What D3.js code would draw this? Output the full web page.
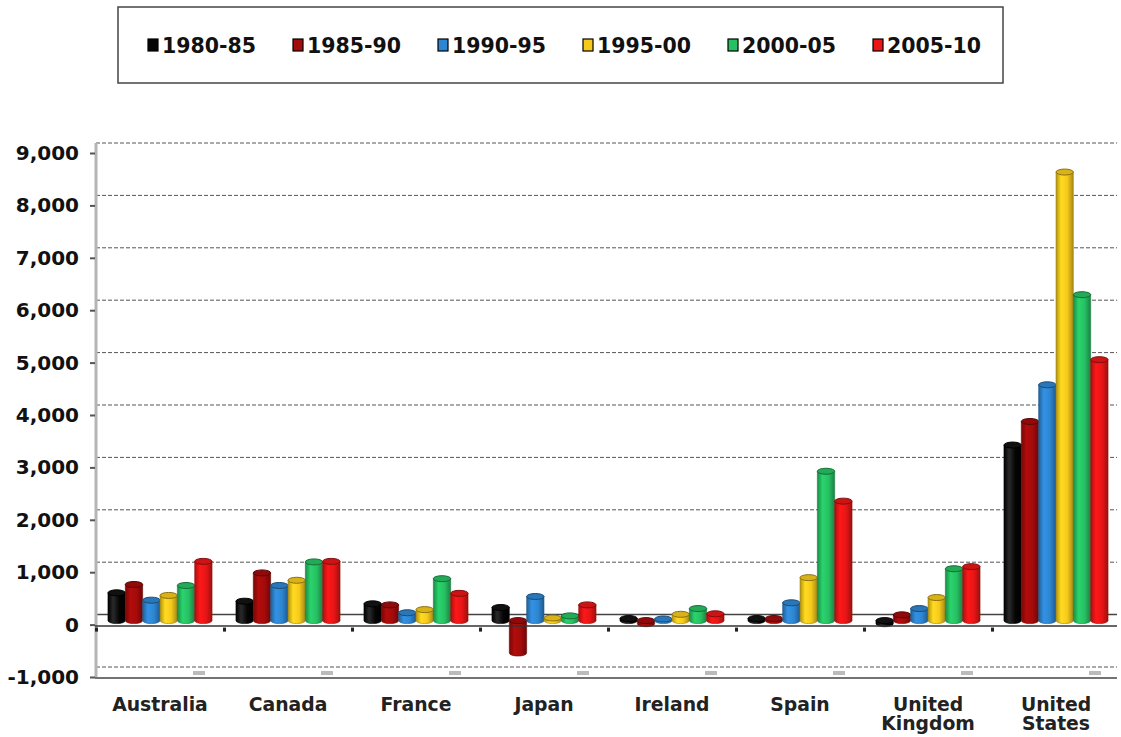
<!DOCTYPE html>
<html>
<head>
<meta charset="utf-8">
<script src="https://cdn.jsdelivr.net/npm/d3@7"></script>
<style>
  body { margin: 0; background: #fff; }
  text { font-family: "DejaVu Sans", Verdana, sans-serif; font-weight: bold; }
</style>
</head>
<body>
<svg width="1121" height="737"></svg>
<script>
// categories + series
const categories = ["Australia", "Canada", "France", "Japan", "Ireland", "Spain", "United Kingdom", "United States"];
const seriesNames = ["1980-85", "1985-90", "1990-95", "1995-00", "2000-05", "2005-10"];
const colors = ["#050505", "#a40b0b", "#2e86d2", "#f6c91c", "#27c163", "#e81616"];

// values per series, in category order
const v1980 = [530, 370, 320, 250, 40, 40, -60, 3350];
const v1985 = [690, 910, 300, -620, -60, 40, 110, 3800];
const v1990 = [390, 670, 150, 460, 30, 340, 230, 4500];
const v1995 = [480, 770, 210, 50, 120, 820, 440, 8560];
const v2000 = [670, 1120, 800, 90, 230, 2850, 990, 6220];
const v2005 = [1130, 1130, 520, 300, 130, 2280, 1030, 4980];
const seriesValues = [v1980, v1985, v1990, v1995, v2000, v2005];

const yTicks = [-1000, 0, 1000, 2000, 3000, 4000, 5000, 6000, 7000, 8000, 9000];

const left = 96, right = 1117;

const svg = d3.select("svg");
const defs = svg.append("defs");

// front (tick) scale
const y = d3.scaleLinear().domain([-1000, 9000]).range([677, 153]);
const backOff = -10, barOff = -4;

const x0 = d3.scaleBand().domain(categories).range([96, 1120]).padding(0);
const x1 = d3.scaleBand().domain(seriesNames).range([0, x0.bandwidth()]).paddingInner(0).paddingOuter(0.69);

// cylinder shading
seriesNames.forEach((s, i) => {
  const c = d3.color(colors[i]);
  const g = defs.append("linearGradient").attr("id", "g" + i)
    .attr("x1", "0%").attr("x2", "100%").attr("y1", "0%").attr("y2", "0%");
  const base = i === 0 ? d3.rgb(0, 0, 0) : c;
  g.append("stop").attr("offset", "0%").attr("stop-color", base.darker(0.9));
  g.append("stop").attr("offset", "30%").attr("stop-color", i === 0 ? "#2a2a2a" : c.brighter(0.25));
  g.append("stop").attr("offset", "65%").attr("stop-color", c);
  g.append("stop").attr("offset", "100%").attr("stop-color", base.darker(1.1));
});

// legend
svg.append("rect")
  .attr("x", 118).attr("y", 7).attr("width", 885).attr("height", 76)
  .attr("fill", "#fff").attr("stroke", "#444").attr("stroke-width", 1.5);

const legend = svg.append("g").selectAll("g")
  .data(seriesNames)
  .enter().append("g")
  .attr("transform", (d, i) => `translate(${148 + i * 145},0)`);
legend.append("rect")
  .attr("x", 0).attr("y", 39).attr("width", 10).attr("height", 12)
  .attr("fill", (d, i) => colors[i]).attr("stroke", "#000").attr("stroke-width", 1.2);
legend.append("text")
  .attr("x", 14).attr("y", 53)
  .style("font-size", "20.5px")
  .attr("fill", "#111")
  .text(d => d);

// back wall gridlines
svg.append("g").selectAll("line")
  .data(yTicks.filter(d => d !== 0))
  .enter().append("line")
  .attr("x1", left).attr("x2", right)
  .attr("y1", d => y(d) + backOff).attr("y2", d => y(d) + backOff)
  .attr("stroke", "#555").attr("stroke-width", 1)
  .attr("stroke-dasharray", "4,2");

// back zero line
svg.append("line")
  .attr("x1", left).attr("x2", right)
  .attr("y1", y(0) + backOff).attr("y2", y(0) + backOff)
  .attr("stroke", "#444").attr("stroke-width", 1.5);

// Y axis
svg.append("line")
  .attr("x1", left).attr("x2", left)
  .attr("y1", y(9000) + backOff).attr("y2", y(-1000))
  .attr("stroke", "#b5b5b5").attr("stroke-width", 3);

const fmt = d3.format(",");
const yAxis = svg.append("g")
  .attr("transform", `translate(${left - 1},0)`)
  .call(d3.axisLeft(y).tickValues(yTicks).tickSize(5).tickPadding(11)
    .tickFormat(d => fmt(d).replace("\u2212", "-")));
yAxis.select(".domain").remove();
yAxis.selectAll(".tick line").attr("stroke", "#555").attr("stroke-width", 2);
yAxis.selectAll("text")
  .style("font-size", "20px")
  .attr("fill", "#111");

// bars
const groups = svg.append("g").selectAll("g")
  .data(categories)
  .enter().append("g")
  .attr("transform", d => `translate(${x0(d)},0)`);

const ry = 3;
groups.each(function (cat, ci) {
  const g = d3.select(this);
  seriesNames.forEach((s, si) => {
    const v = seriesValues[si][ci];
    const bx = x1(s), bw = x1.bandwidth();
    const y0 = y(0) + barOff, yv = y(v) + barOff;
    const top = Math.min(y0, yv), bot = Math.max(y0, yv);
    const c = d3.color(colors[si]);
    // body
    g.append("path")
      .attr("d", `M${bx},${top} L${bx},${bot} A${bw / 2},${ry} 0 0 0 ${bx + bw},${bot} L${bx + bw},${top} Z`)
      .attr("fill", `url(#g${si})`)
      .attr("stroke", si === 0 ? "#000" : c.darker(1.2))
      .attr("stroke-width", 0.6);
    // cap
    g.append("ellipse")
      .attr("cx", bx + bw / 2).attr("cy", top)
      .attr("rx", bw / 2).attr("ry", ry)
      .attr("fill", si === 0 ? "#111" : c.darker(0.35))
      .attr("stroke", si === 0 ? "#000" : c.darker(1.6))
      .attr("stroke-width", 1);
  });
});

// front floor lines
svg.append("line")
  .attr("x1", left - 1).attr("x2", right)
  .attr("y1", y(0) + 1.5).attr("y2", y(0) + 1.5)
  .attr("stroke", "#333").attr("stroke-width", 1.5);
svg.append("line")
  .attr("x1", left - 1).attr("x2", right)
  .attr("y1", y(-1000) + 1).attr("y2", y(-1000) + 1)
  .attr("stroke", "#444").attr("stroke-width", 1.5);

// small category ticks on floor
svg.append("g").selectAll("rect")
  .data(categories)
  .enter().append("rect")
  .attr("x", d => x0(d) - 1).attr("y", y(0) + 3)
  .attr("width", 3).attr("height", 4)
  .attr("fill", "#222");
svg.append("g").selectAll("rect")
  .data(categories)
  .enter().append("rect")
  .attr("x", d => x0(d) + 97).attr("y", y(-1000) - 6)
  .attr("width", 12).attr("height", 4)
  .attr("fill", "#bbb");

// category labels
const xAxis = svg.append("g")
  .attr("transform", `translate(0,${y(-1000)})`)
  .call(d3.axisBottom(x0).tickSize(0).tickFormat(""));
xAxis.select(".domain").remove();
xAxis.selectAll(".tick").each(function (d) {
  const words = d.startsWith("United") ? d.split(" ") : [d];
  const t = d3.select(this).append("text")
    .attr("text-anchor", "middle")
    .attr("fill", "#222")
    .style("font-size", "18.8px");
  words.forEach((w, i) => {
    t.append("tspan").attr("x", 0).attr("y", 34 + i * 19).text(w);
  });
});
</script>
</body>
</html>
